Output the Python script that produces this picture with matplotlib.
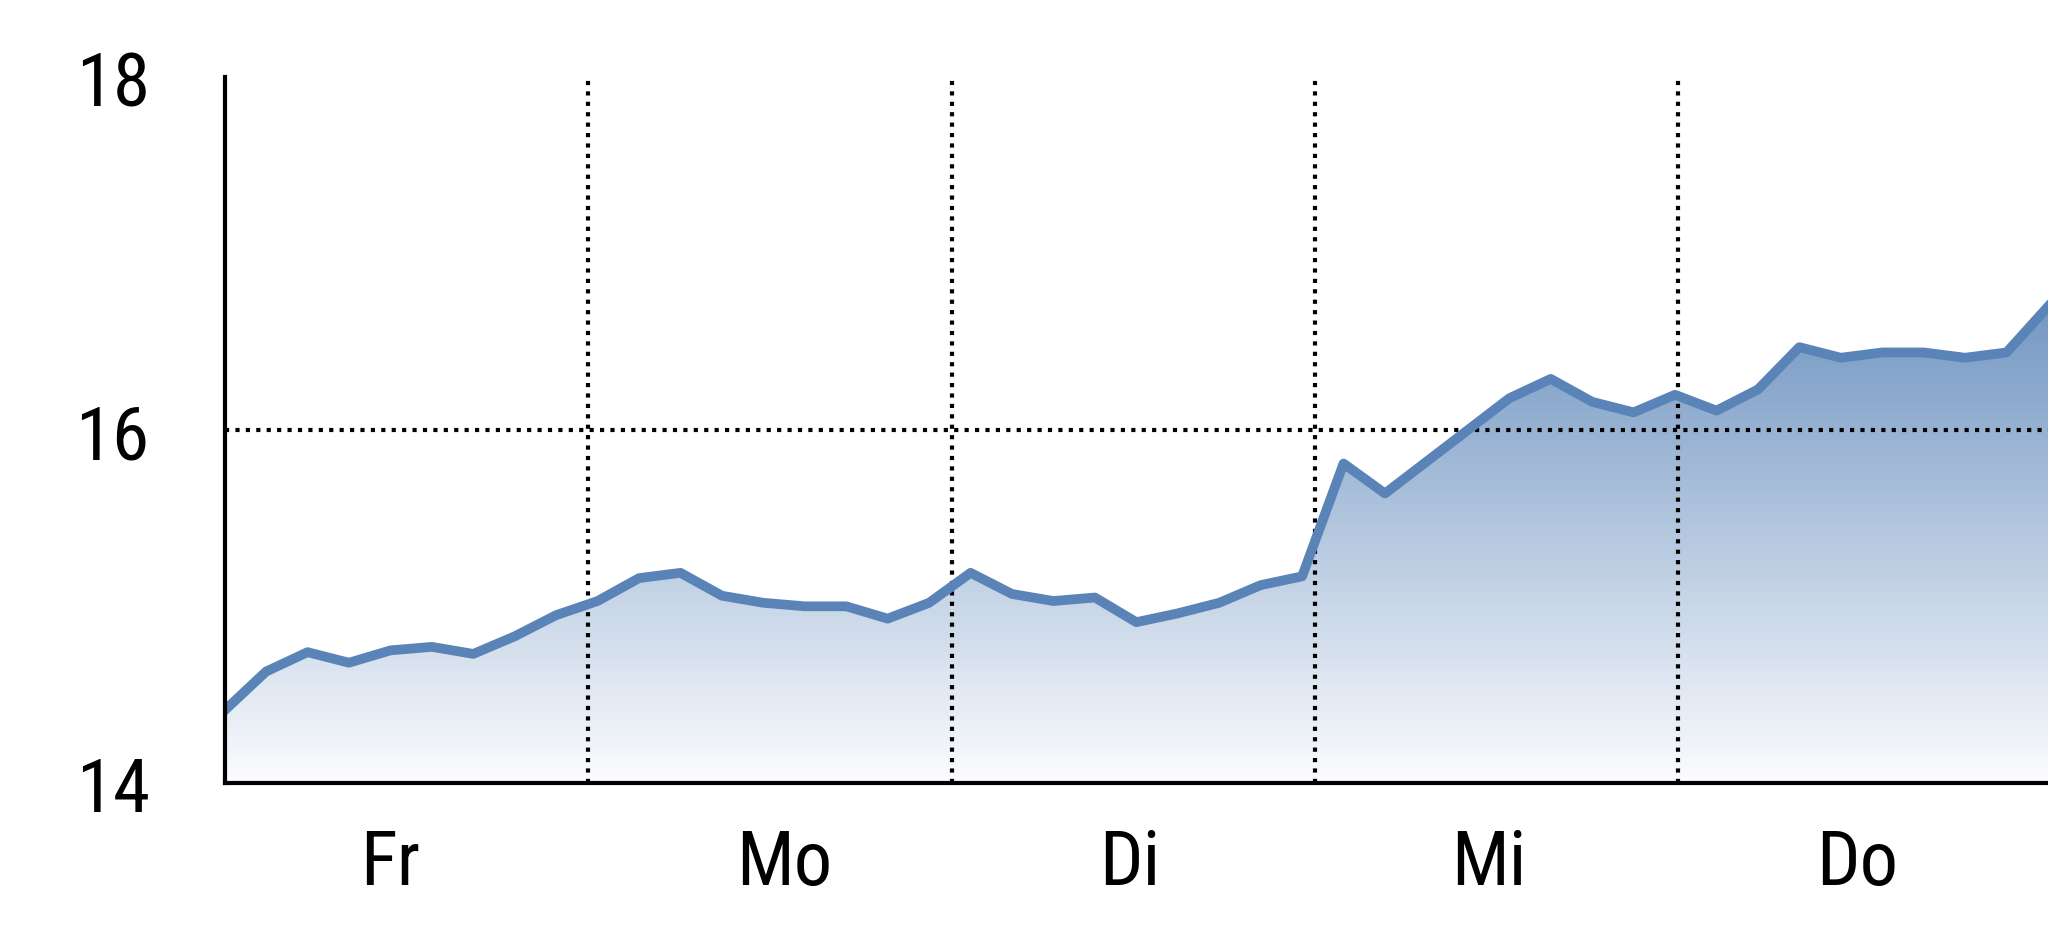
import numpy as np
import matplotlib.pyplot as plt
from matplotlib.colors import LinearSegmentedColormap
from matplotlib.patches import Polygon

# Kursverlauf, ca. 9 Werte je Handelstag
kurs = [14.41, 14.63, 14.74, 14.68, 14.75, 14.77, 14.73, 14.83, 14.95, 15.03,
        15.16, 15.19, 15.06, 15.02, 15.00, 15.00, 14.93, 15.02, 15.19, 15.07,
        15.03, 15.05, 14.91, 14.96, 15.02, 15.12, 15.17, 15.81, 15.64, 15.82,
        16.00, 16.18, 16.29, 16.16, 16.10, 16.20, 16.11, 16.23, 16.47, 16.41,
        16.44, 16.44, 16.41, 16.44, 16.70]
tage = ['Fr', 'Mo', 'Di', 'Mi', 'Do']
tag_pos = [4.0, 13.5, 21.85, 30.5, 39.4]
tag_grenzen = [8.77, 17.54, 26.31, 35.08]
y_ticks = [14, 16, 18]

plt.rcParams['font.family'] = ['Roboto Condensed', 'Liberation Sans', 'DejaVu Sans']

x = np.arange(len(kurs))
fig = plt.figure(figsize=(20.48, 9.37), dpi=100)
ax = fig.add_axes([0.1097, 0.1637, 0.8903, 0.7526])
ax.set_xlim(0, 44)
ax.set_ylim(14, 18)

# Flaeche mit Verlauf von weiss nach blau
verts = list(zip(x, kurs)) + [(x[-1], 14), (0, 14)]
poly = Polygon(verts, closed=True, facecolor='none', edgecolor='none')
ax.add_patch(poly)
cmap = LinearSegmentedColormap.from_list('blau', ['#fbfcfe', '#7498c3'])
grad = np.linspace(0, 1, 256).reshape(-1, 1)
img = ax.imshow(grad, cmap=cmap, origin='lower', aspect='auto',
                extent=[0, x[-1], 14, max(kurs)], zorder=1)
img.set_clip_path(poly)

ax.vlines(tag_grenzen, 14, 18, colors='black', linestyles=(0, (1, 1.5)),
          lw=3, zorder=2)
ax.hlines(16, 0, 44, colors='black', linestyles=(0, (1, 1.5)), lw=3, zorder=2)

ax.plot(x, kurs, color='#5a84b7', lw=7, zorder=3)

for s in ['top', 'right']:
    ax.spines[s].set_visible(False)
for s in ['left', 'bottom']:
    ax.spines[s].set_linewidth(3)
    ax.spines[s].set_zorder(4)

ax.set_yticks(y_ticks)
ax.set_xticks(tag_pos, tage)
ax.tick_params(axis='y', length=0, pad=54, labelsize=54)
ax.tick_params(axis='x', length=0, pad=32, labelsize=55)

fig.savefig('out.png', dpi=100)
